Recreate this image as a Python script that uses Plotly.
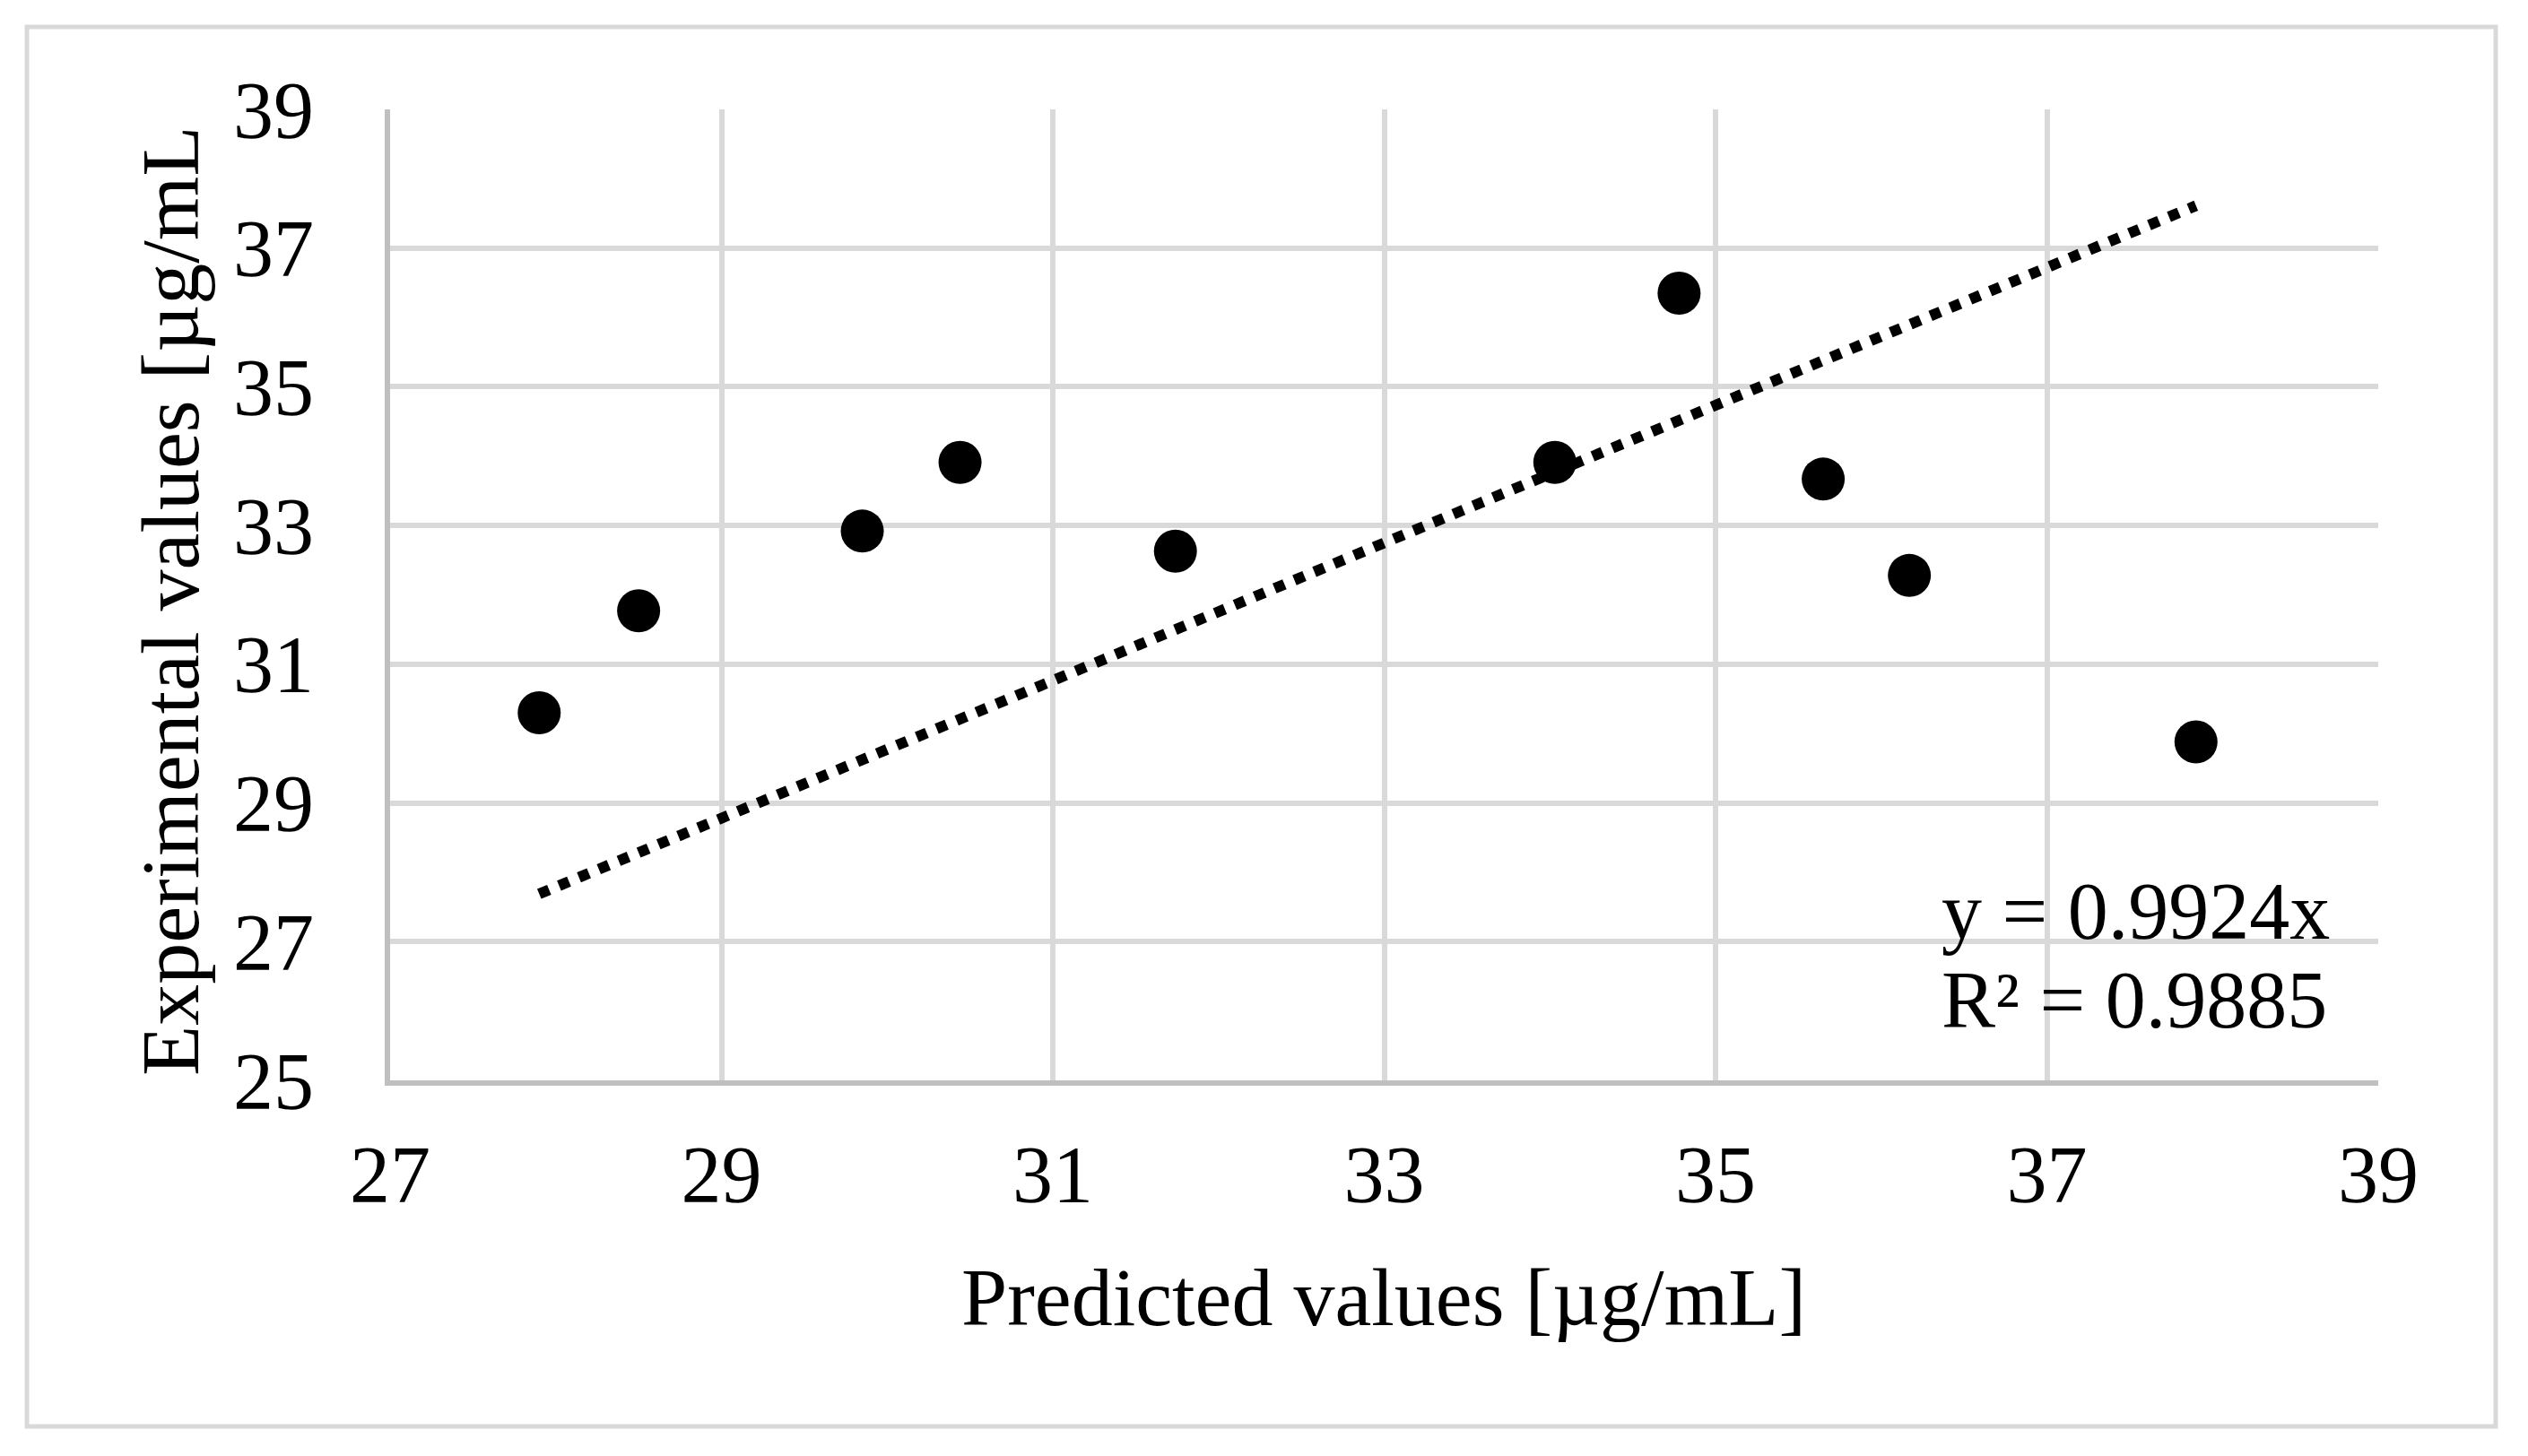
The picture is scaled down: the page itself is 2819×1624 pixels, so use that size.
import plotly.graph_objects as go

# Data
predicted = [27.90, 28.50, 29.85, 30.44, 31.74, 34.03, 34.78, 35.65, 36.17, 37.90]
experimental = [30.30, 31.77, 32.92, 33.91, 32.63, 33.91, 36.35, 33.67, 32.28, 29.88]
slope = 0.9924
r2 = 0.9885
x_ticks = [27, 29, 31, 33, 35, 37, 39]
y_ticks = [25, 27, 29, 31, 33, 35, 37, 39]

OFF = 8  # default HTML body margin
W, H = 2819 - 2 * OFF, 1624 - 2 * OFF
L, R, T, B = 435 - OFF, 2652 - OFF, 122 - OFF, 1205 - OFF
pw, ph = R - L, B - T


def px(x):
    return (x - OFF - L) / pw


def py(y):
    return (B - (y - OFF)) / ph


FONT = "Liberation Serif, Times New Roman, serif"

trend_x = [min(predicted), max(predicted)]
trend_y = [slope * v for v in trend_x]

fig = go.Figure()
fig.add_trace(go.Scatter(
    x=trend_x, y=trend_y, mode="lines",
    line=dict(color="black", width=12, dash="dot"),
    showlegend=False, hoverinfo="skip",
))
fig.add_trace(go.Scatter(
    x=predicted, y=experimental, mode="markers",
    marker=dict(color="black", size=48, line=dict(width=0)),
    showlegend=False,
))

fig.update_layout(
    width=W, height=H,
    margin=dict(l=L, r=W - R, t=T, b=H - B, pad=0),
    paper_bgcolor="white", plot_bgcolor="white",
    font=dict(family=FONT, size=90, color="black"),
    showlegend=False,
)
fig.update_xaxes(
    range=[27, 39], tickvals=x_ticks, ticktext=[str(v) for v in x_ticks],
    showgrid=True, gridcolor="#d9d9d9", gridwidth=6,
    showline=True, linecolor="#bfbfbf", linewidth=6,
    zeroline=False, ticks="", ticklabelstandoff=22,
    tickfont=dict(family=FONT, size=90, color="black"),
)
fig.update_yaxes(
    range=[25, 39], tickvals=y_ticks, ticktext=[str(v) for v in y_ticks],
    showgrid=True, gridcolor="#d9d9d9", gridwidth=6,
    showline=True, linecolor="#bfbfbf", linewidth=6,
    zeroline=False, ticks="", ticklabelstandoff=61,
    tickfont=dict(family=FONT, size=90, color="black"),
)

# Outer chart border
fig.add_shape(type="rect", xref="paper", yref="paper",
              x0=px(30), x1=px(2783), y0=py(1591), y1=py(30),
              line=dict(color="#d9d9d9", width=5), fillcolor="rgba(0,0,0,0)",
              layer="below")

# Axis titles
fig.add_annotation(xref="paper", yref="paper", x=px(1543), y=py(1447),
                   text="Predicted values [µg/mL]", showarrow=False,
                   xanchor="center", yanchor="middle",
                   font=dict(family=FONT, size=92, color="black"))
fig.add_annotation(xref="paper", yref="paper", x=px(190), y=py(670),
                   text="Experimental values [µg/mL", showarrow=False,
                   textangle=-90, xanchor="center", yanchor="middle",
                   font=dict(family=FONT, size=92, color="black"))

# Trendline equation
fig.add_annotation(xref="paper", yref="paper", x=px(2163), y=py(1016),
                   text=f"y = {slope:.4f}x", showarrow=False,
                   xanchor="left", yanchor="middle",
                   font=dict(family=FONT, size=90, color="black"))
fig.add_annotation(xref="paper", yref="paper", x=px(2163), y=py(1115),
                   text=f"R² = {r2:.4f}", showarrow=False,
                   xanchor="left", yanchor="middle",
                   font=dict(family=FONT, size=90, color="black"))

fig.write_html("out.html")
